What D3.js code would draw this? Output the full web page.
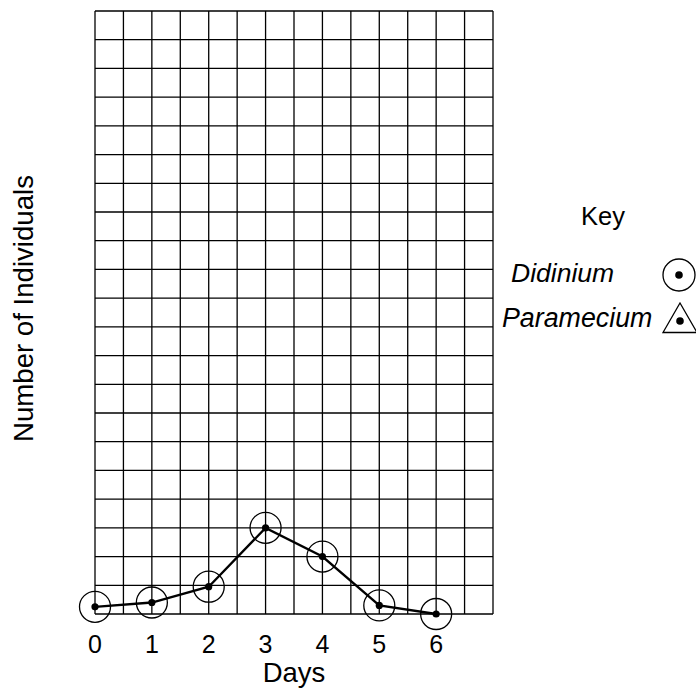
<!DOCTYPE html>
<html>
<head>
<meta charset="utf-8">
<script src="https://cdn.jsdelivr.net/npm/d3@7"></script>
<style>
  html, body { margin: 0; padding: 0; background: #fff; }
  svg { display: block; }
  text { font-family: "Liberation Sans", Arial, Helvetica, sans-serif; fill: #000; }
</style>
</head>
<body>
<svg id="chart" width="696" height="689"></svg>
<script>
// Data
const days = [0, 1, 2, 3, 4, 5, 6];
const didinium = [2.5, 4, 9.5, 30, 20, 3, 0];
const xTickLabels = ["0", "1", "2", "3", "4", "5", "6"];
const legendLabels = ["Didinium", "Paramecium"];
const xAxisTitle = "Days";
const yAxisTitle = "Number of Individuals";
const keyTitle = "Key";

const svg = d3.select("#chart");
const pLeft = 95, pRight = 493, pTop = 11, pBottom = 614;

const x = d3.scaleLinear().domain([0, 7]).range([pLeft, pRight]);
const y = d3.scaleLinear().domain([0, 210]).range([pBottom, pTop]);

// grid
const g = svg.append("g");
const xGrid = d3.range(0, 7.01, 0.5);
const yGrid = d3.range(0, 210.1, 10);
g.selectAll("line.v").data(xGrid).join("line")
  .attr("x1", d => x(d)).attr("x2", d => x(d))
  .attr("y1", y(0)).attr("y2", y(210))
  .attr("stroke", "#000").attr("stroke-width", 1.3);
g.selectAll("line.h").data(yGrid).join("line")
  .attr("y1", d => y(d)).attr("y2", d => y(d))
  .attr("x1", x(0)).attr("x2", x(7))
  .attr("stroke", "#000").attr("stroke-width", 1.3);

// x tick labels
svg.append("g").selectAll("text").data(days).join("text")
  .attr("x", d => x(d)).attr("y", 653)
  .attr("text-anchor", "middle").attr("font-size", 25)
  .text((d, i) => xTickLabels[i]);

svg.append("text").attr("x", (pLeft + pRight) / 2).attr("y", 682)
  .attr("text-anchor", "middle").attr("font-size", 27.5).text(xAxisTitle);

svg.append("text")
  .attr("transform", `translate(33, ${(pTop + pBottom) / 2 - 4}) rotate(-90)`)
  .attr("text-anchor", "middle").attr("font-size", 27.6).text(yAxisTitle);

// data line
const line = d3.line().x((d, i) => x(days[i])).y(d => y(d));
svg.append("path").datum(didinium).attr("d", line)
  .attr("fill", "none").attr("stroke", "#000").attr("stroke-width", 2.3);

const pts = svg.append("g").selectAll("g").data(didinium).join("g")
  .attr("transform", (d, i) => `translate(${x(days[i])},${y(d)})`);
pts.append("circle").attr("r", 15.5).attr("fill", "none").attr("stroke", "#000").attr("stroke-width", 1.3);
pts.append("circle").attr("r", 3.6).attr("fill", "#000");

// Legend
svg.append("text").attr("x", 603).attr("y", 225).attr("text-anchor", "middle")
  .attr("font-size", 25.5).text(keyTitle);
svg.append("text").attr("x", 511).attr("y", 282).attr("font-size", 26.5)
  .attr("font-style", "italic").text(legendLabels[0]);
svg.append("text").attr("x", 502).attr("y", 327).attr("font-size", 26.8)
  .attr("font-style", "italic").text(legendLabels[1]);

const lc = svg.append("g").attr("transform", "translate(679,275)");
lc.append("circle").attr("r", 16).attr("fill", "none").attr("stroke", "#000").attr("stroke-width", 1.3);
lc.append("circle").attr("r", 3.8).attr("fill", "#000");

const lt = svg.append("g").attr("transform", "translate(680,321)");
lt.append("path").attr("d", "M0,-18 L17,11.5 L-17,11.5 Z")
  .attr("fill", "none").attr("stroke", "#000").attr("stroke-width", 1.3);
lt.append("circle").attr("r", 3.8).attr("fill", "#000");
</script>
</body>
</html>
